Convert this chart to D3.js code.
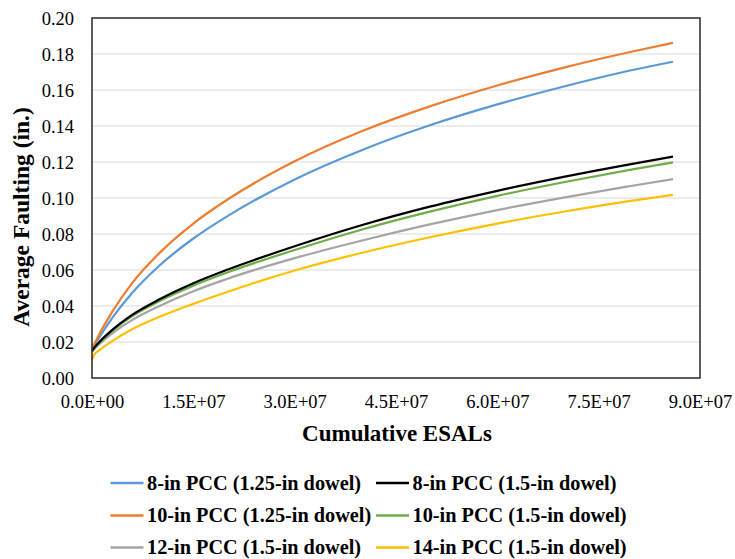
<!DOCTYPE html>
<html>
<head>
<meta charset="utf-8">
<script src="https://cdn.jsdelivr.net/npm/d3@7"></script>
<style>
  html, body { margin: 0; padding: 0; background: #fff; }
  svg { display: block; }
  svg text { font-family: "Liberation Serif", "Times New Roman", "DejaVu Serif", serif; fill: #000; }
</style>
</head>
<body>
<svg id="chart" width="735" height="559" font-family="Liberation Serif, serif"></svg>
<script>
// Cumulative ESALs at which faulting was sampled
const esals = [0, 3e5, 1e6, 3e6, 6e6, 1e7, 1.5e7, 2e7, 3e7, 4e7, 5e7, 6e7, 7e7, 8e7, 8.6e7];

// Average faulting (in.) for each slab thickness / dowel diameter
const pcc8Dowel125  = [0.0160, 0.0180, 0.0222, 0.0334, 0.0475, 0.0625, 0.0775, 0.0898, 0.1103, 0.1267, 0.1404, 0.1520, 0.1621, 0.1711, 0.1757];
const pcc10Dowel125 = [0.0160, 0.0184, 0.0238, 0.0368, 0.0530, 0.0695, 0.0858, 0.0990, 0.1204, 0.1372, 0.1509, 0.1625, 0.1726, 0.1814, 0.1862];
const pcc8Dowel15   = [0.0150, 0.0166, 0.0196, 0.0267, 0.0352, 0.0437, 0.0526, 0.0601, 0.0732, 0.0850, 0.0952, 0.1040, 0.1119, 0.1190, 0.1230];
const pcc10Dowel15  = [0.0148, 0.0164, 0.0193, 0.0262, 0.0345, 0.0428, 0.0513, 0.0586, 0.0711, 0.0825, 0.0924, 0.1012, 0.1089, 0.1159, 0.1198];
const pcc12Dowel15  = [0.0145, 0.0159, 0.0185, 0.0248, 0.0323, 0.0400, 0.0482, 0.0551, 0.0666, 0.0764, 0.0853, 0.0933, 0.1004, 0.1068, 0.1105];
const pcc14Dowel15  = [0.0100, 0.0128, 0.0152, 0.0205, 0.0272, 0.0340, 0.0412, 0.0478, 0.0597, 0.0696, 0.0782, 0.0858, 0.0925, 0.0985, 0.1017];

const seriesNames = [
  "8-in PCC (1.25-in dowel)", "8-in PCC (1.5-in dowel)",
  "10-in PCC (1.25-in dowel)", "10-in PCC (1.5-in dowel)",
  "12-in PCC (1.5-in dowel)", "14-in PCC (1.5-in dowel)"
];
const seriesValues = [pcc8Dowel125, pcc8Dowel15, pcc10Dowel125, pcc10Dowel15, pcc12Dowel15, pcc14Dowel15];
const seriesColors = ["#5B9BD5", "#000000", "#ED7D31", "#70AD47", "#A5A5A5", "#FFC000"];
// drawing order (later lines on top)
const drawOrder = [0, 2, 4, 5, 3, 1];

const xTicks = [0, 1.5e7, 3e7, 4.5e7, 6e7, 7.5e7, 9e7];
const yTicks = [0, 0.02, 0.04, 0.06, 0.08, 0.10, 0.12, 0.14, 0.16, 0.18, 0.20];

const plot = { left: 92, top: 18, right: 700, bottom: 378 };
const serif = "Liberation Serif, Times New Roman, serif";

const svg = d3.select("#chart");
const x = d3.scaleLinear().domain([0, 9e7]).range([plot.left, plot.right]);
const y = d3.scaleLinear().domain([0, 0.20]).range([plot.bottom, plot.top]);

// horizontal gridlines
svg.append("g")
  .selectAll("line")
  .data(yTicks.filter(t => t > 0 && t < 0.2))
  .join("line")
  .attr("x1", plot.left).attr("x2", plot.right)
  .attr("y1", d => y(d)).attr("y2", d => y(d))
  .attr("stroke", "#d9d9d9").attr("stroke-width", 1.2);

// y axis labels
const yAxis = d3.axisLeft(y).tickValues(yTicks).tickFormat(d3.format(".2f")).tickSize(0).tickPadding(18);
svg.append("g")
  .attr("transform", `translate(${plot.left},0)`)
  .call(yAxis)
  .attr("font-family", serif)
  .call(g => g.select(".domain").remove())
  .call(g => g.selectAll("text")
    .attr("font-size", 18.5).attr("fill", "#000").attr("dy", "0.36em"));

// x axis labels
const xAxis = d3.axisBottom(x).tickValues(xTicks)
  .tickFormat(d => (d / 1e7 === 0 ? "0.0E+00" : (d / 1e7).toFixed(1) + "E+07"))
  .tickSize(0).tickPadding(17);
svg.append("g")
  .attr("transform", `translate(0,${plot.bottom})`)
  .call(xAxis)
  .attr("font-family", serif)
  .call(g => g.select(".domain").remove())
  .call(g => g.selectAll("text")
    .attr("font-size", 18.5).attr("fill", "#000"));

// series lines
const line = d3.line()
  .x((d, i) => x(esals[i]))
  .y(d => y(d))
  .curve(d3.curveMonotoneX);

svg.append("g")
  .selectAll("path")
  .data(drawOrder)
  .join("path")
  .attr("d", k => line(seriesValues[k]))
  .attr("fill", "none")
  .attr("stroke", k => seriesColors[k])
  .attr("stroke-width", 2.25)
  .attr("stroke-linejoin", "round");

// plot area frame
svg.append("rect")
  .attr("x", plot.left).attr("y", plot.top)
  .attr("width", plot.right - plot.left).attr("height", plot.bottom - plot.top)
  .attr("fill", "none").attr("stroke", "#333").attr("stroke-width", 1.6);

// axis titles
svg.append("text")
  .attr("transform", `translate(29,${(plot.top + plot.bottom) / 2 + 19}) rotate(-90)`)
  .attr("text-anchor", "middle")
  .attr("font-size", 23.5).attr("font-weight", "bold")
  .text("Average Faulting (in.)");

svg.append("text")
  .attr("x", 397).attr("y", 441)
  .attr("text-anchor", "middle")
  .attr("font-size", 23).attr("font-weight", "bold")
  .text("Cumulative ESALs");

// legend, two columns by three rows
const legendCols = [110.5, 376];
const legendRows = [483, 515.5, 547.5];
const legend = svg.append("g")
  .selectAll("g")
  .data(seriesNames.map((name, i) => ({ name, i })))
  .join("g")
  .attr("transform", d => `translate(${legendCols[d.i % 2]},${legendRows[Math.floor(d.i / 2)]})`);

legend.append("line")
  .attr("x1", 0).attr("x2", 33)
  .attr("stroke", d => seriesColors[d.i])
  .attr("stroke-width", 2.5);

legend.append("text")
  .attr("x", 36.5).attr("dy", "0.32em")
  .attr("font-size", 20.3).attr("font-weight", "bold")
  .text(d => d.name);
</script>
</body>
</html>
